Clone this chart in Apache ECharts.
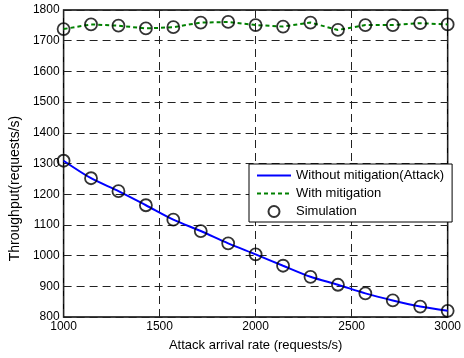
<!DOCTYPE html>
<html>
<head>
<meta charset="utf-8">
<script src="https://cdn.jsdelivr.net/npm/echarts@6/dist/echarts.min.js"></script>
<style>
  html, body { margin: 0; padding: 0; background: #fff; }
  #chart { width: 464px; height: 358px; }
</style>
</head>
<body>
<div id="chart"></div>
<script>
// attack arrival rates (requests/s)
const rates = [1000, 1142.9, 1285.7, 1428.6, 1571.4, 1714.3, 1857.1, 2000,
  2142.9, 2285.7, 2428.6, 2571.4, 2714.3, 2857.1, 3000];
const withoutMitigation = [1309, 1252, 1210, 1164, 1117, 1080, 1040, 1004,
  967, 931, 905, 877, 854, 834, 820];
const withMitigation = [1738, 1753, 1749, 1740, 1744, 1759, 1761, 1751,
  1746, 1759, 1735, 1751, 1751, 1757, 1753];
// simulation points sit on the curves
const simulation = withoutMitigation.concat(withMitigation);

const FONT = 'Liberation Sans, Arial, sans-serif';
const pair = (xs, ys) => xs.map((x, i) => [x, ys[i]]);

const chart = echarts.init(document.getElementById('chart'), null, { renderer: 'canvas' });

const gridLine = { show: true, lineStyle: { color: '#222', type: [8, 5], width: 1 } };

chart.setOption({
  animation: false,
  backgroundColor: '#fff',
  grid: { left: 62, right: 12, top: 10, bottom: 41, show: true, borderColor: '#000', borderWidth: 1.5 },
  legend: {
    orient: 'vertical',
    left: 249,
    top: 164,
    width: 203,
    padding: [5, 8, 4, 7],
    itemGap: 5,
    itemWidth: 34,
    itemHeight: 11,
    backgroundColor: '#fff',
    borderColor: '#000',
    borderWidth: 1,
    borderRadius: 0,
    textStyle: { fontFamily: FONT, fontSize: 13, color: '#000' },
    data: [
      { name: 'Without mitigation(Attack)', itemStyle: { opacity: 0 } },
      { name: 'With mitigation', itemStyle: { opacity: 0 } },
      { name: 'Simulation', icon: 'circle' },
    ],
  },
  xAxis: {
    type: 'value',
    min: 1000,
    max: 3000,
    interval: 500,
    name: 'Attack arrival rate (requests/s)',
    nameLocation: 'middle',
    nameGap: 22,
    nameTextStyle: { fontFamily: FONT, fontSize: 13, color: '#000' },
    axisLine: { show: false },
    axisTick: { show: false },
    axisLabel: { fontFamily: FONT, fontSize: 12, color: '#000', margin: 4, formatter: (v) => String(v) },
    splitLine: gridLine,
  },
  yAxis: {
    type: 'value',
    min: 800,
    max: 1800,
    interval: 100,
    name: 'Throughput(requests/s)',
    nameLocation: 'middle',
    nameGap: 35,
    nameTextStyle: { fontFamily: FONT, fontSize: 14, color: '#000', padding: [0, 50, 0, 0] },
    axisLine: { show: false },
    axisTick: { show: false },
    axisLabel: { fontFamily: FONT, fontSize: 12, color: '#000', margin: 4, formatter: (v) => String(v) },
    splitLine: gridLine,
  },
  series: [
    {
      name: 'Without mitigation(Attack)',
      type: 'line',
      data: pair(rates, withoutMitigation),
      smooth: 0.3,
      symbol: 'none',
      lineStyle: { color: '#0000ff', width: 2 },
      itemStyle: { color: '#0000ff' },
      z: 3,
    },
    {
      name: 'With mitigation',
      type: 'line',
      data: pair(rates, withMitigation),
      symbol: 'none',
      lineStyle: { color: '#008000', width: 2, type: [4, 3] },
      itemStyle: { color: '#008000' },
      z: 3,
    },
    {
      name: 'Simulation',
      type: 'scatter',
      data: pair(rates.concat(rates), simulation),
      symbol: 'circle',
      symbolSize: 12,
      itemStyle: { color: 'rgba(255,255,255,0)', borderColor: '#000', borderWidth: 1.8 },
      z: 4,
    },
  ],
});
</script>
</body>
</html>
